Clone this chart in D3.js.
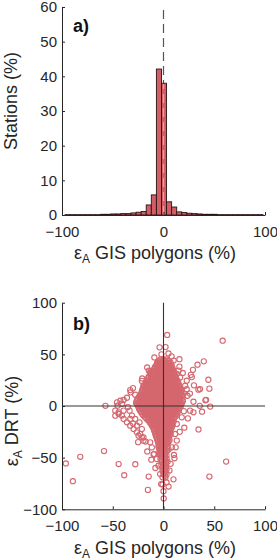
<!DOCTYPE html>
<html>
<head>
<meta charset="utf-8">
<script src="https://cdn.jsdelivr.net/npm/d3@7"></script>
<style>
  body { margin: 0; background: #fff; }
  svg { display: block; font-family: "Liberation Sans", Arial, sans-serif; }
</style>
</head>
<body>
<svg id="chart" width="277" height="558"></svg>
<script>
// histogram (panel a): left edge of each 5 % bin and share of stations
var binStart = [-97,-92,-87,-82,-77,-72,-67,-62,-57,-52,-47,-42,-37,-32,-27,-22,-17,-12,-7,-2,
                3,8,13,18,23,28,33,38,43,48,53,58,63,68,73,78,83,88,93];
var stationPct = [0.1,0.1,0.1,0.1,0.1,0.1,0.1,0.2,0.2,0.3,0.3,0.4,0.4,0.6,0.8,1.0,2.9,5.8,42.1,38.0,
                  3.8,2.3,0.9,0.7,0.5,0.4,0.3,0.2,0.2,0.2,0.1,0.1,0.1,0.1,0.1,0.1,0.1,0.1,0.1];
var binWidth = 5;

var histTicksX = [-100, 0, 100];
var histTicksY = [0, 10, 20, 30, 40, 50, 60];
var scatTicks = [-100, -50, 0, 50, 100];

// scatter (panel b): dense core read row by row  [eps DRT, [eps GIS ...]]
var coreRows = [
  [45, [-3,0,3]],
  [43.5, [-4.5,-1.5,1.5,4.5]],
  [42, [-5,-2,1,4,7]],
  [40.5, [-6.5,-3.5,-0.5,2.5,5.5]],
  [39, [-7,-4,-1,2,5,8]],
  [37.5, [-8.5,-5.5,-2.5,0.5,3.5,6.5,8.5]],
  [36, [-9,-6,-3,0,3,6,9]],
  [34.5, [-10.5,-7.5,-4.5,-1.5,1.5,4.5,7.5,9.5]],
  [33, [-11,-8,-5,-2,1,4,7,10]],
  [31.5, [-12.5,-9.5,-6.5,-3.5,-0.5,2.5,5.5,8.5,10.5]],
  [30, [-13,-10,-7,-4,-1,2,5,8,11]],
  [28.5, [-14.5,-11.5,-8.5,-5.5,-2.5,0.5,3.5,6.5,9.5,11.5]],
  [27, [-15,-12,-9,-6,-3,0,3,6,9,12]],
  [25.5, [-15.5,-12.5,-9.5,-6.5,-3.5,-0.5,2.5,5.5,8.5,11.5,13]],
  [24, [-16,-13,-10,-7,-4,-1,2,5,8,11,14]],
  [22.5, [-17.5,-14.5,-11.5,-8.5,-5.5,-2.5,0.5,3.5,6.5,9.5,12.5,14.5]],
  [21, [-18,-15,-12,-9,-6,-3,0,3,6,9,12,15]],
  [19.5, [-19.5,-16.5,-13.5,-10.5,-7.5,-4.5,-1.5,1.5,4.5,7.5,10.5,13.5,15.5]],
  [18, [-20,-17,-14,-11,-8,-5,-2,1,4,7,10,13,16]],
  [16.5, [-20.5,-17.5,-14.5,-11.5,-8.5,-5.5,-2.5,0.5,3.5,6.5,9.5,12.5,15.5,17]],
  [15, [-21,-18,-15,-12,-9,-6,-3,0,3,6,9,12,15,18]],
  [13.5, [-21.5,-18.5,-15.5,-12.5,-9.5,-6.5,-3.5,-0.5,2.5,5.5,8.5,11.5,14.5,17.5]],
  [12, [-22,-19,-16,-13,-10,-7,-4,-1,2,5,8,11,14,17,20]],
  [10.5, [-23,-20.5,-17.5,-14.5,-11.5,-8.5,-5.5,-2.5,0.5,3.5,6.5,9.5,12.5,15.5,18.5]],
  [9,  [-24,-21,-18,-15,-12,-9,-6,-3,0,3,6,9,12,15,18]],
  [7.5, [-25,-22.5,-19.5,-16.5,-13.5,-10.5,-7.5,-4.5,-1.5,1.5,4.5,7.5,10.5,13.5,16.5]],
  [6,  [-26,-23,-20,-17,-14,-11,-8,-5,-2,1,4,7,10,13,16,19]],
  [4.5, [-26.5,-22.5,-19.5,-16.5,-13.5,-10.5,-7.5,-4.5,-1.5,1.5,4.5,7.5,10.5,13.5,16.5,19]],
  [3,  [-27,-24,-21,-18,-15,-12,-9,-6,-3,0,3,6,9,12,15,18]],
  [1.5, [-26,-23.5,-20.5,-17.5,-14.5,-11.5,-8.5,-5.5,-2.5,0.5,3.5,6.5,9.5,12.5,15.5,17.5]],
  [0,  [-25,-22,-19,-16,-13,-10,-7,-4,-1,2,5,8,11,14,17]],
  [-1.5, [-24.5,-22.5,-19.5,-16.5,-13.5,-10.5,-7.5,-4.5,-1.5,1.5,4.5,7.5,10.5,13.5,16]],
  [-3, [-24,-21,-18,-15,-12,-9,-6,-3,0,3,6,9,12,15]],
  [-4.5, [-23,-19.5,-16.5,-13.5,-10.5,-7.5,-4.5,-1.5,1.5,4.5,7.5,10.5,13.5]],
  [-6, [-22,-19,-16,-13,-10,-7,-4,-1,2,5,8,11,14]],
  [-7.5, [-21,-17.5,-14.5,-11.5,-8.5,-5.5,-2.5,0.5,3.5,6.5,9.5,12.5]],
  [-9, [-20,-17,-14,-11,-8,-5,-2,1,4,7,10,13]],
  [-10.5, [-18.5,-15.5,-12.5,-9.5,-6.5,-3.5,-0.5,2.5,5.5,8.5,11.5]],
  [-12,[-17,-14,-11,-8,-5,-2,1,4,7,10]],
  [-13.5, [-15.5,-12.5,-9.5,-6.5,-3.5,-0.5,2.5,5.5,8.5]],
  [-15,[-14,-11,-8,-5,-2,1,4,7,10]],
  [-16.5, [-13,-9.5,-6.5,-3.5,-0.5,2.5,5.5,8.5]],
  [-18,[-12,-9,-6,-3,0,3,6,9]],
  [-19.5, [-11,-8.5,-5.5,-2.5,0.5,3.5,6.5,8.5]],
  [-21,[-10,-7,-4,-1,2,5,8]],
  [-22.5, [-9.5,-6.5,-3.5,-0.5,2.5,5.5,7]],
  [-24,[-9,-6,-3,0,3,6]],
  [-25.5, [-8.5,-5.5,-2.5,0.5,3.5,6.5]],
  [-27,[-8,-5,-2,1,4,7]],
  [-28.5, [-7.5,-4.5,-1.5,1.5,4.5,6]],
  [-30,[-7,-4,-1,2,5]],
  [-31.5, [-6.5,-3.5,-0.5,2.5,5]],
  [-33,[-6,-3,0,3,6]],
  [-34.5, [-5.5,-2.5,0.5,3.5,5]],
  [-36,[-5,-2,1,4]],
  [-37.5, [-3.5,-0.5,2.5]],
  [-39,[-5,-2,1,4]],
  [-40.5, [-4.5,-2.5,0.5,3.5]],
  [-42,[-4,-1,2,5]],
  [-43.5, [-2.5,0.5,3.5]],
  [-45,[-4,-1,2]],
  [-46.5, [-3.5,-1.5,1.5]],
  [-48,[-3,0,3]],
  [-49.5, [-1.5,1.5]],
  [-51,[-3,0,3]],
  [-52.5, [-1.5,1.5]],
  [-54,[-2,1,4]],
  [-55.5, [-0.5,2.5]],
  [-57,[-2,1]],
  [-58.5, [-0.5,2.5]],
  [-60,[-1,2]],
  [-61.5, [0.5,3]],
  [-63,[-1,2]],
  [-64.5, [0.5]],
  [-66,[0,3]],
  [-67.5, [1.5]],
  [-69,[-1,2]]
];

// scatter (panel b): individual stations around the core  [eps GIS, eps DRT]
var edgePts = [
  [3.6,68.8],[58.3,63.2],[-3.9,56.8],[4.9,50.8],[15.7,45.3],[39.7,43.2],[33.5,40],[29,35],
  [27.9,28],[14.8,34.3],[44.2,25.4],[34.4,15.8],[36,16.4],[45.2,16.8],[22.9,24.5],[21.3,19.6],
  [42,6],[29.5,4.1],[23.6,9.9],[16.4,27.6],[15.7,38.1],[13.1,31],[26.9,30.1],[22.9,16.2],
  [41.3,5.5],[46,-0.6],[35.7,0.2],[38,-5.5],[20.5,-21],[34.5,-22.7],[61.7,-53.8],[45.2,-68.3],
  [10.3,-47.4],[9.8,-71],[0,-82.5],[0.2,-89.5],[5.9,-62.5],[11.5,-27.1],[13.1,-33.5],[8.2,-40],
  [26.2,-4.5],[29.5,-6.1],[13.1,-17.4],[18,-11],[6.6,-14.2],[10.8,-50.6],[3,-74],[5,-78],[-1,-76],
  [-15.4,-81.2],[-14.6,-68.3],[-27.8,-56.4],[-38.7,-67],[-44.2,-56.2],[-58.6,-43.6],[-82,-49.2],
  [-96.2,-55.6],[-89.3,-72.8],[-57.2,0.2],[-17.7,-34.4],[-9.8,-46.8],
  [-45.8,3.5],[-42.5,5.1],[-39.3,5.8],[-47.5,-4.5],[-44.2,-7.7],[-41,-9.3],[-39.3,-12.6],[-36,-15.8],
  [-32.8,-19],[-29.5,-22.3],[-26.2,-25.5],[-24.6,-28.7],[-21.3,-30.4],[-19.7,-33.6],[-33.4,-4.5],
  [-31.1,-9.3],[-27.9,-12.6],[-23.6,-15.8],[-39.3,-4.5],[-45.2,0.3],[-32.8,15.4],[-30.1,17.3],
  [-27.9,10.9],[-21.3,24.3],[-19.7,19.5],[-16.4,21.1],[-13.1,32.4],[-11.5,29.1],[-8.2,37.2],
  [-6.6,40.4],[-3.3,42],[-12.8,31.8],[-21,26.6],[-32.4,13.2],[-40.7,2.1],[-16.1,37.3],[-6.2,42.1],
  [-14.4,34.1],[-47.5,-9.4],[-44.2,-6.2],[-32.8,-12.6],[-26.2,-19.1],[-22.9,-27.2],[-13.1,-35.2],
  [-11.5,-40.1],[-9.2,-46.5],[-6.6,-51.4],[-4.9,-57.8],[-3.3,-65.9],[-2.3,-75.6],[-19.7,-30.4],
  [-21.3,-22.3],[-36,8],[-35,-1],[-30,-17],[-25,-35],[-16,-44],[-12,-52],[-8,-60],[7,-56],[12,-40],
  [16,-25],[24,-12],[20,-5],[26,12],[30,20],[19,32],[10,44],[-9,47],[-2,50],[2,57],[8,48]
];

var axisCol = "#262626",
    barFill = "#d35d65",
    ptCol = "#d5676f";

var svg = d3.select("#chart");

var bins = binStart.map(function(s, i) { return {x0: s, x1: s + binWidth, v: stationPct[i]}; });

var scatter = [];
coreRows.forEach(function(r) {
    r[1].forEach(function(x) { scatter.push([x, r[0]]); });
});
edgePts.forEach(function(p) { scatter.push(p); });

// ---------- panel a ----------
var xa = d3.scaleLinear().domain([-100, 100]).range([62, 265]);
var ya = d3.scaleLinear().domain([0, 60]).range([215, 7]);

var ga = svg.append("g");

// dashed zero line under the bars
ga.append("line")
    .attr("x1", xa(0)).attr("x2", xa(0))
    .attr("y1", ya(0)).attr("y2", ya(60))
    .attr("stroke", "#555").attr("stroke-width", 1.2)
    .attr("stroke-dasharray", "9,5");

ga.append("g").selectAll("rect")
    .data(bins)
    .enter()
    .append("rect")
    .attr("x", function(d) { return xa(d.x0); })
    .attr("width", function(d) { return xa(d.x1) - xa(d.x0); })
    .attr("y", function(d) { return ya(d.v); })
    .attr("height", function(d) { return ya(0) - ya(d.v); })
    .attr("fill", barFill)
    .attr("stroke", "#2a1414")
    .attr("stroke-width", 0.9);

// the dash shows pale where it crosses the bar
var zeroBin = bins.filter(function(b) { return b.x0 <= 0 && b.x1 > 0; })[0];
ga.append("line")
    .attr("x1", xa(0)).attr("x2", xa(0))
    .attr("y1", ya(0)).attr("y2", ya(zeroBin.v) + 1)
    .attr("stroke", "#eaa0a6").attr("stroke-width", 1.2)
    .attr("stroke-dasharray", "9,5");

function styleAxis(g) {
    g.selectAll(".domain").attr("stroke", axisCol).attr("stroke-width", 1);
    g.selectAll(".tick line").attr("stroke", axisCol);
    g.selectAll(".tick text").attr("fill", axisCol).style("font-size", "15px");
}

ga.append("g")
    .attr("transform", "translate(0," + ya(0) + ")")
    .call(d3.axisBottom(xa).tickValues(histTicksX).tickSizeInner(-3).tickSizeOuter(0).tickPadding(11))
    .call(styleAxis);

ga.append("g")
    .attr("transform", "translate(" + xa(-100) + ",0)")
    .call(d3.axisLeft(ya).tickValues(histTicksY).tickSizeInner(-3).tickSizeOuter(0).tickPadding(5))
    .call(styleAxis);

ga.append("text")
    .attr("x", 73).attr("y", 32)
    .style("font-size", "18px").style("font-weight", "bold")
    .attr("fill", "#111")
    .text("a)");

function xTitle(g, y) {
    var t = g.append("text")
        .attr("x", 155).attr("y", y)
        .attr("text-anchor", "middle")
        .attr("fill", axisCol)
        .style("font-size", "18px");
    t.append("tspan").text("ε");
    t.append("tspan").attr("dy", 4).style("font-size", "12px").text("A");
    t.append("tspan").attr("dy", -4).text(" GIS polygons (%)");
}

xTitle(ga, 259);

ga.append("text")
    .attr("transform", "translate(17,101) rotate(-90)")
    .attr("text-anchor", "middle")
    .attr("fill", axisCol)
    .style("font-size", "18px")
    .text("Stations (%)");

// ---------- panel b ----------
var xb = d3.scaleLinear().domain([-100, 100]).range([62, 265]);
var yb = d3.scaleLinear().domain([-100, 100]).range([509.3, 302.7]);

var gb = svg.append("g");

gb.append("g").selectAll("circle")
    .data(scatter)
    .enter()
    .append("circle")
    .attr("cx", function(d) { return xb(d[0]); })
    .attr("cy", function(d) { return yb(d[1]); })
    .attr("r", 2.6)
    .attr("fill", "none")
    .attr("stroke", ptCol)
    .attr("stroke-width", 1.1);

// zero cross lines on top of points
gb.append("line")
    .attr("x1", xb(-100)).attr("x2", xb(100))
    .attr("y1", yb(0)).attr("y2", yb(0))
    .attr("stroke", "#333").attr("stroke-width", 1.1);
gb.append("line")
    .attr("x1", xb(0)).attr("x2", xb(0))
    .attr("y1", yb(-100)).attr("y2", yb(100))
    .attr("stroke", "#333").attr("stroke-width", 1.1);

gb.append("g")
    .attr("transform", "translate(0," + yb(-100) + ")")
    .call(d3.axisBottom(xb).tickValues(scatTicks).tickSizeInner(-3).tickSizeOuter(0).tickPadding(11))
    .call(styleAxis);

gb.append("g")
    .attr("transform", "translate(" + xb(-100) + ",0)")
    .call(d3.axisLeft(yb).tickValues(scatTicks).tickSizeInner(-3).tickSizeOuter(0).tickPadding(5))
    .call(styleAxis);

gb.append("text")
    .attr("x", 73).attr("y", 330)
    .style("font-size", "18px").style("font-weight", "bold")
    .attr("fill", "#111")
    .text("b)");

xTitle(gb, 554);

var yt = gb.append("text")
    .attr("transform", "translate(18,421) rotate(-90)")
    .attr("text-anchor", "middle")
    .attr("fill", axisCol)
    .style("font-size", "18px");
yt.append("tspan").text("ε");
yt.append("tspan").attr("dy", 4).style("font-size", "12px").text("A");
yt.append("tspan").attr("dy", -4).text(" DRT (%)");
</script>
</body>
</html>
